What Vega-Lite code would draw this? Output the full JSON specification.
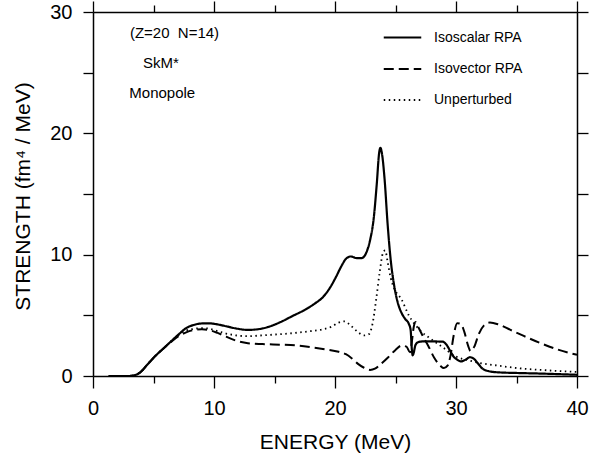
{
  "$schema": "https://vega.github.io/schema/vega-lite/v6.json",
  "width": 484,
  "height": 364,
  "autosize": {"type": "none"},
  "padding": {"left": 93, "top": 12, "right": 32, "bottom": 79},
  "background": "white",
  "config": {
    "view": {"stroke": null},
    "font": "Liberation Sans",
    "axis": {
      "domainColor": "black", "tickColor": "black", "labelColor": "black", "titleColor": "black",
      "domainWidth": 1.5, "tickWidth": 1.3, "grid": false,
      "labelFont": "Liberation Sans", "titleFont": "Liberation Sans",
      "labelFontSize": 20, "titleFontSize": 21, "titleFontWeight": "normal"
    }
  },
  "layer": [
    {
      "data": {"values": [
        {"series": "Isoscalar RPA", "energy": 1.3, "strength": 0},
        {"series": "Isoscalar RPA", "energy": 3.0, "strength": 0},
        {"series": "Isoscalar RPA", "energy": 3.5, "strength": 0.08},
        {"series": "Isoscalar RPA", "energy": 3.9, "strength": 0.3},
        {"series": "Isoscalar RPA", "energy": 4.5, "strength": 0.95},
        {"series": "Isoscalar RPA", "energy": 5.2, "strength": 1.7},
        {"series": "Isoscalar RPA", "energy": 5.8, "strength": 2.25},
        {"series": "Isoscalar RPA", "energy": 6.5, "strength": 2.9},
        {"series": "Isoscalar RPA", "energy": 7.1, "strength": 3.45},
        {"series": "Isoscalar RPA", "energy": 7.7, "strength": 3.95},
        {"series": "Isoscalar RPA", "energy": 8.3, "strength": 4.2},
        {"series": "Isoscalar RPA", "energy": 9.0, "strength": 4.33},
        {"series": "Isoscalar RPA", "energy": 9.6, "strength": 4.34},
        {"series": "Isoscalar RPA", "energy": 10.3, "strength": 4.25},
        {"series": "Isoscalar RPA", "energy": 11.0, "strength": 4.1},
        {"series": "Isoscalar RPA", "energy": 11.8, "strength": 3.92},
        {"series": "Isoscalar RPA", "energy": 12.8, "strength": 3.8},
        {"series": "Isoscalar RPA", "energy": 13.6, "strength": 3.85},
        {"series": "Isoscalar RPA", "energy": 14.4, "strength": 4.02},
        {"series": "Isoscalar RPA", "energy": 15.4, "strength": 4.4},
        {"series": "Isoscalar RPA", "energy": 16.5, "strength": 4.95},
        {"series": "Isoscalar RPA", "energy": 17.5, "strength": 5.45},
        {"series": "Isoscalar RPA", "energy": 18.3, "strength": 5.95},
        {"series": "Isoscalar RPA", "energy": 19.0, "strength": 6.5},
        {"series": "Isoscalar RPA", "energy": 19.6, "strength": 7.3},
        {"series": "Isoscalar RPA", "energy": 20.1, "strength": 8.2},
        {"series": "Isoscalar RPA", "energy": 20.5, "strength": 9.0},
        {"series": "Isoscalar RPA", "energy": 20.9, "strength": 9.65},
        {"series": "Isoscalar RPA", "energy": 21.3, "strength": 9.85},
        {"series": "Isoscalar RPA", "energy": 21.8, "strength": 9.72},
        {"series": "Isoscalar RPA", "energy": 22.2, "strength": 9.72},
        {"series": "Isoscalar RPA", "energy": 22.6, "strength": 10.2},
        {"series": "Isoscalar RPA", "energy": 22.9, "strength": 11.2},
        {"series": "Isoscalar RPA", "energy": 23.2, "strength": 13.0},
        {"series": "Isoscalar RPA", "energy": 23.45, "strength": 15.8},
        {"series": "Isoscalar RPA", "energy": 23.65, "strength": 18.4},
        {"series": "Isoscalar RPA", "energy": 23.75, "strength": 18.8},
        {"series": "Isoscalar RPA", "energy": 23.9, "strength": 18.2},
        {"series": "Isoscalar RPA", "energy": 24.1, "strength": 16.2},
        {"series": "Isoscalar RPA", "energy": 24.35, "strength": 12.5},
        {"series": "Isoscalar RPA", "energy": 24.6, "strength": 9.6},
        {"series": "Isoscalar RPA", "energy": 24.9, "strength": 7.4},
        {"series": "Isoscalar RPA", "energy": 25.2, "strength": 6.0},
        {"series": "Isoscalar RPA", "energy": 25.5, "strength": 5.2},
        {"series": "Isoscalar RPA", "energy": 25.8, "strength": 4.7},
        {"series": "Isoscalar RPA", "energy": 26.1, "strength": 4.3},
        {"series": "Isoscalar RPA", "energy": 26.25, "strength": 3.8},
        {"series": "Isoscalar RPA", "energy": 26.35, "strength": 2.2},
        {"series": "Isoscalar RPA", "energy": 26.42, "strength": 1.7},
        {"series": "Isoscalar RPA", "energy": 26.5, "strength": 1.9},
        {"series": "Isoscalar RPA", "energy": 26.65, "strength": 2.55},
        {"series": "Isoscalar RPA", "energy": 26.9, "strength": 2.8},
        {"series": "Isoscalar RPA", "energy": 27.3, "strength": 2.85},
        {"series": "Isoscalar RPA", "energy": 28.0, "strength": 2.85},
        {"series": "Isoscalar RPA", "energy": 28.9, "strength": 2.83},
        {"series": "Isoscalar RPA", "energy": 29.2, "strength": 2.6},
        {"series": "Isoscalar RPA", "energy": 29.5, "strength": 2.1},
        {"series": "Isoscalar RPA", "energy": 29.8, "strength": 1.6},
        {"series": "Isoscalar RPA", "energy": 30.1, "strength": 1.35},
        {"series": "Isoscalar RPA", "energy": 30.4, "strength": 1.2},
        {"series": "Isoscalar RPA", "energy": 30.8, "strength": 1.35},
        {"series": "Isoscalar RPA", "energy": 31.15, "strength": 1.55},
        {"series": "Isoscalar RPA", "energy": 31.5, "strength": 1.4},
        {"series": "Isoscalar RPA", "energy": 31.8, "strength": 1.05},
        {"series": "Isoscalar RPA", "energy": 32.2, "strength": 0.6},
        {"series": "Isoscalar RPA", "energy": 32.7, "strength": 0.4},
        {"series": "Isoscalar RPA", "energy": 33.5, "strength": 0.3},
        {"series": "Isoscalar RPA", "energy": 35.0, "strength": 0.25},
        {"series": "Isoscalar RPA", "energy": 37.0, "strength": 0.2},
        {"series": "Isoscalar RPA", "energy": 40.0, "strength": 0.1},

        {"series": "Isovector RPA", "energy": 1.3, "strength": 0},
        {"series": "Isovector RPA", "energy": 3.0, "strength": 0},
        {"series": "Isovector RPA", "energy": 3.5, "strength": 0.08},
        {"series": "Isovector RPA", "energy": 3.9, "strength": 0.3},
        {"series": "Isovector RPA", "energy": 4.5, "strength": 0.95},
        {"series": "Isovector RPA", "energy": 5.2, "strength": 1.7},
        {"series": "Isovector RPA", "energy": 5.8, "strength": 2.25},
        {"series": "Isovector RPA", "energy": 6.5, "strength": 2.85},
        {"series": "Isovector RPA", "energy": 7.1, "strength": 3.3},
        {"series": "Isovector RPA", "energy": 7.7, "strength": 3.6},
        {"series": "Isovector RPA", "energy": 8.3, "strength": 3.78},
        {"series": "Isovector RPA", "energy": 9.0, "strength": 3.85},
        {"series": "Isovector RPA", "energy": 9.6, "strength": 3.78},
        {"series": "Isovector RPA", "energy": 10.3, "strength": 3.55},
        {"series": "Isovector RPA", "energy": 11.0, "strength": 3.25},
        {"series": "Isovector RPA", "energy": 11.8, "strength": 2.92},
        {"series": "Isovector RPA", "energy": 12.8, "strength": 2.7},
        {"series": "Isovector RPA", "energy": 14.0, "strength": 2.63},
        {"series": "Isovector RPA", "energy": 15.5, "strength": 2.58},
        {"series": "Isovector RPA", "energy": 16.7, "strength": 2.53},
        {"series": "Isovector RPA", "energy": 18.0, "strength": 2.38},
        {"series": "Isovector RPA", "energy": 19.2, "strength": 2.2},
        {"series": "Isovector RPA", "energy": 20.3, "strength": 2.0},
        {"series": "Isovector RPA", "energy": 20.9, "strength": 1.8},
        {"series": "Isovector RPA", "energy": 21.4, "strength": 1.45},
        {"series": "Isovector RPA", "energy": 21.9, "strength": 1.0},
        {"series": "Isovector RPA", "energy": 22.4, "strength": 0.68},
        {"series": "Isovector RPA", "energy": 22.9, "strength": 0.5},
        {"series": "Isovector RPA", "energy": 23.3, "strength": 0.6},
        {"series": "Isovector RPA", "energy": 23.8, "strength": 1.0},
        {"series": "Isovector RPA", "energy": 24.4, "strength": 1.55},
        {"series": "Isovector RPA", "energy": 25.0, "strength": 2.15},
        {"series": "Isovector RPA", "energy": 25.5, "strength": 2.5},
        {"series": "Isovector RPA", "energy": 25.9, "strength": 2.42},
        {"series": "Isovector RPA", "energy": 26.2, "strength": 1.95},
        {"series": "Isovector RPA", "energy": 26.35, "strength": 2.8},
        {"series": "Isovector RPA", "energy": 26.5, "strength": 4.0},
        {"series": "Isovector RPA", "energy": 26.65, "strength": 4.45},
        {"series": "Isovector RPA", "energy": 26.9, "strength": 4.0},
        {"series": "Isovector RPA", "energy": 27.3, "strength": 3.2},
        {"series": "Isovector RPA", "energy": 27.7, "strength": 2.5},
        {"series": "Isovector RPA", "energy": 28.2, "strength": 1.5},
        {"series": "Isovector RPA", "energy": 28.7, "strength": 0.85},
        {"series": "Isovector RPA", "energy": 29.0, "strength": 0.65},
        {"series": "Isovector RPA", "energy": 29.3, "strength": 0.85},
        {"series": "Isovector RPA", "energy": 29.55, "strength": 1.7},
        {"series": "Isovector RPA", "energy": 29.8, "strength": 3.3},
        {"series": "Isovector RPA", "energy": 30.1, "strength": 4.35},
        {"series": "Isovector RPA", "energy": 30.4, "strength": 4.3},
        {"series": "Isovector RPA", "energy": 30.7, "strength": 3.6},
        {"series": "Isovector RPA", "energy": 31.0, "strength": 2.5},
        {"series": "Isovector RPA", "energy": 31.2, "strength": 2.05},
        {"series": "Isovector RPA", "energy": 31.5, "strength": 2.4},
        {"series": "Isovector RPA", "energy": 31.9, "strength": 3.5},
        {"series": "Isovector RPA", "energy": 32.3, "strength": 4.15},
        {"series": "Isovector RPA", "energy": 32.8, "strength": 4.4},
        {"series": "Isovector RPA", "energy": 33.5, "strength": 4.25},
        {"series": "Isovector RPA", "energy": 34.5, "strength": 3.8},
        {"series": "Isovector RPA", "energy": 35.6, "strength": 3.3},
        {"series": "Isovector RPA", "energy": 37.0, "strength": 2.7},
        {"series": "Isovector RPA", "energy": 38.5, "strength": 2.15},
        {"series": "Isovector RPA", "energy": 40.0, "strength": 1.75},

        {"series": "Unperturbed", "energy": 1.3, "strength": 0},
        {"series": "Unperturbed", "energy": 3.0, "strength": 0},
        {"series": "Unperturbed", "energy": 3.5, "strength": 0.08},
        {"series": "Unperturbed", "energy": 3.9, "strength": 0.3},
        {"series": "Unperturbed", "energy": 4.5, "strength": 0.95},
        {"series": "Unperturbed", "energy": 5.2, "strength": 1.7},
        {"series": "Unperturbed", "energy": 5.8, "strength": 2.25},
        {"series": "Unperturbed", "energy": 6.5, "strength": 2.9},
        {"series": "Unperturbed", "energy": 7.1, "strength": 3.4},
        {"series": "Unperturbed", "energy": 7.7, "strength": 3.75},
        {"series": "Unperturbed", "energy": 8.3, "strength": 3.88},
        {"series": "Unperturbed", "energy": 9.0, "strength": 3.95},
        {"series": "Unperturbed", "energy": 9.6, "strength": 3.9},
        {"series": "Unperturbed", "energy": 10.3, "strength": 3.7},
        {"series": "Unperturbed", "energy": 11.0, "strength": 3.5},
        {"series": "Unperturbed", "energy": 11.8, "strength": 3.35},
        {"series": "Unperturbed", "energy": 12.8, "strength": 3.28},
        {"series": "Unperturbed", "energy": 14.0, "strength": 3.35},
        {"series": "Unperturbed", "energy": 15.5, "strength": 3.45},
        {"series": "Unperturbed", "energy": 16.7, "strength": 3.55},
        {"series": "Unperturbed", "energy": 18.0, "strength": 3.7},
        {"series": "Unperturbed", "energy": 19.0, "strength": 3.85},
        {"series": "Unperturbed", "energy": 19.7, "strength": 4.05},
        {"series": "Unperturbed", "energy": 20.3, "strength": 4.4},
        {"series": "Unperturbed", "energy": 20.8, "strength": 4.5},
        {"series": "Unperturbed", "energy": 21.2, "strength": 4.25},
        {"series": "Unperturbed", "energy": 21.8, "strength": 3.7},
        {"series": "Unperturbed", "energy": 22.4, "strength": 3.35},
        {"series": "Unperturbed", "energy": 22.8, "strength": 3.45},
        {"series": "Unperturbed", "energy": 23.1, "strength": 4.3},
        {"series": "Unperturbed", "energy": 23.4, "strength": 6.3},
        {"series": "Unperturbed", "energy": 23.7, "strength": 8.6},
        {"series": "Unperturbed", "energy": 23.95, "strength": 10.1},
        {"series": "Unperturbed", "energy": 24.15, "strength": 10.35},
        {"series": "Unperturbed", "energy": 24.35, "strength": 9.4},
        {"series": "Unperturbed", "energy": 24.6, "strength": 8.1},
        {"series": "Unperturbed", "energy": 24.9, "strength": 7.2},
        {"series": "Unperturbed", "energy": 25.5, "strength": 6.3},
        {"series": "Unperturbed", "energy": 26.1, "strength": 5.0},
        {"series": "Unperturbed", "energy": 27.0, "strength": 3.8},
        {"series": "Unperturbed", "energy": 28.0, "strength": 3.0},
        {"series": "Unperturbed", "energy": 29.0, "strength": 2.3},
        {"series": "Unperturbed", "energy": 30.0, "strength": 1.6},
        {"series": "Unperturbed", "energy": 31.0, "strength": 1.3},
        {"series": "Unperturbed", "energy": 32.0, "strength": 1.07},
        {"series": "Unperturbed", "energy": 33.5, "strength": 0.85},
        {"series": "Unperturbed", "energy": 35.0, "strength": 0.66},
        {"series": "Unperturbed", "energy": 37.5, "strength": 0.47},
        {"series": "Unperturbed", "energy": 40.0, "strength": 0.33}
      ]},
      "mark": {"type": "line", "color": "black", "interpolate": "monotone"},
      "encoding": {
        "x": {
          "field": "energy", "type": "quantitative",
          "scale": {"domain": [0, 40], "nice": false, "zero": false},
          "axis": {
            "orient": "bottom",
            "values": [0, 5, 10, 15, 20, 25, 30, 35, 40],
            "labelExpr": "datum.value % 10 === 0 ? datum.label : ''",
            "tickSize": {"condition": {"test": "datum.value % 10 === 0", "value": 12}, "value": 7},
            "labelPadding": 10,
            "labelFlush": false,
            "title": "ENERGY (MeV)",
            "titleX": 242, "titleY": 72, "titleAlign": "center", "titleBaseline": "alphabetic"
          }
        },
        "y": {
          "field": "strength", "type": "quantitative",
          "scale": {"domain": [0, 30], "nice": false},
          "axis": {
            "orient": "left",
            "values": [0, 5, 10, 15, 20, 25, 30],
            "labelExpr": "datum.value % 10 === 0 ? datum.label : ''",
            "tickSize": 10,
            "labelPadding": 11,
            "labelFlush": false,
            "title": "STRENGTH (fm⁴ / MeV)",
            "titleX": -70, "titleY": 184, "titleAngle": -90, "titleAlign": "center", "titleBaseline": "middle"
          }
        },
        "strokeDash": {
          "field": "series", "type": "nominal",
          "scale": {"domain": ["Isoscalar RPA", "Isovector RPA", "Unperturbed"], "range": [[1, 0], [10, 5], [1.5, 3.5]]},
          "legend": {
            "orient": "none", "legendX": 293, "legendY": 9,
            "title": null, "padding": 0,
            "symbolType": "M-1.25,0H1.25", "symbolSize": 900,
            "symbolStrokeColor": "black", "symbolStrokeWidth": 1.8,
            "labelFont": "Liberation Sans", "labelFontSize": 14, "labelColor": "black",
            "labelOffset": 15, "rowPadding": 8
          }
        },
        "strokeWidth": {
          "field": "series", "type": "nominal",
          "scale": {"domain": ["Isoscalar RPA", "Isovector RPA", "Unperturbed"], "range": [2.2, 1.8, 1.8]},
          "legend": null
        }
      }
    },
    {
      "data": {"values": [
        {"label": "(Z=20\u00a0\u00a0N=14)", "energy": 3.05, "strength": 28.3},
        {"label": "SkM*", "energy": 4.13, "strength": 25.8},
        {"label": "Monopole", "energy": 3.0, "strength": 23.35}
      ]},
      "mark": {"type": "text", "align": "left", "baseline": "middle", "fontSize": 15, "font": "Liberation Sans", "color": "black"},
      "encoding": {
        "x": {
          "field": "energy", "type": "quantitative",
          "scale": {"domain": [0, 40], "nice": false, "zero": false},
          "axis": {
            "orient": "top", "values": [0, 5, 10, 15, 20, 25, 30, 35, 40],
            "labels": false, "title": null,
            "tickSize": {"condition": {"test": "datum.value % 10 === 0", "value": 11}, "value": 7}
          }
        },
        "y": {
          "field": "strength", "type": "quantitative",
          "scale": {"domain": [0, 30], "nice": false},
          "axis": {
            "orient": "right", "values": [0, 5, 10, 15, 20, 25, 30],
            "labels": false, "title": null, "tickSize": 11
          }
        },
        "text": {"field": "label", "type": "nominal"}
      }
    }
  ],
  "resolve": {"axis": {"x": "independent", "y": "independent"}}
}
